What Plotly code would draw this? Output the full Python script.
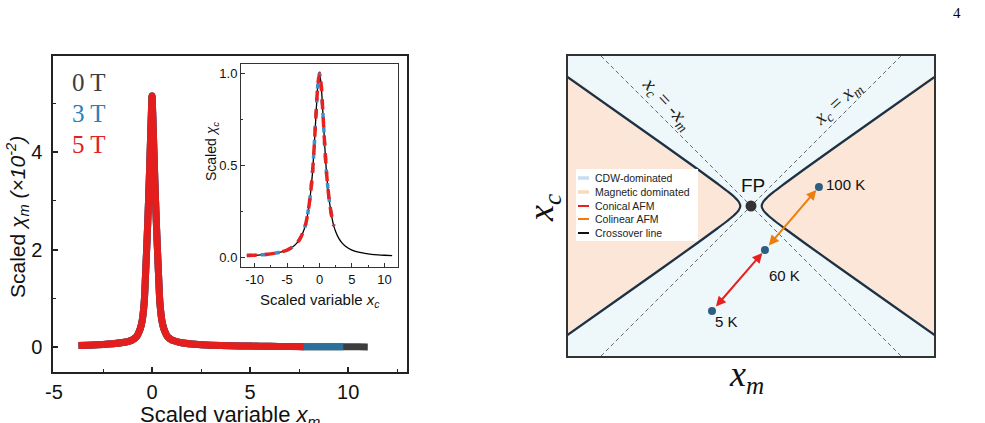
import plotly.graph_objects as go

# ---------------- data: main panel (scaled chi_m vs scaled x_m) ----------------
xm = [-3.75, -3.0, -2.5, -2.0, -1.5, -1.2, -1.0, -0.8, -0.7, -0.6, -0.5, -0.4, -0.33, -0.27,
      -0.22, -0.17, -0.12, -0.07, -0.03, 0.0, 0.03, 0.07, 0.12, 0.17, 0.22, 0.27, 0.33, 0.4,
      0.5, 0.6, 0.7, 0.8, 1.0, 1.2, 1.5, 2.0, 2.5, 3.0, 4.0, 5.0, 6.0, 7.0, 7.75, 8.5, 9.0,
      9.75, 10.5, 11.0]
chi_m = [0.035, 0.045, 0.055, 0.07, 0.095, 0.12, 0.15, 0.21, 0.28, 0.38, 0.55, 0.92, 1.5, 2.05,
         2.55, 3.1, 3.7, 4.35, 4.85, 5.15, 4.85, 4.35, 3.7, 3.1, 2.55, 2.05, 1.5, 0.92,
         0.55, 0.38, 0.28, 0.21, 0.15, 0.12, 0.09, 0.065, 0.05, 0.04, 0.03, 0.022, 0.017, 0.013,
         0.01, 0.009, 0.008, 0.007, 0.006, 0.005]
field_labels = ["0 T", "3 T", "5 T"]
field_xmax = [11.0, 9.75, 7.75]
field_colors = ["#3d3d3d", "#2b6f9b", "#e41d1d"]
label_colors = ["#3d3d3d", "#2b80bb", "#e4211c"]

# ---------------- data: inset (scaled chi_c vs scaled x_c) ----------------
xc = [-11.2, -10, -9, -8, -7, -6, -5, -4, -3.4, -3, -2.5, -2.2, -2, -1.7, -1.4, -1.1, -0.8,
      -0.5, -0.25, 0, 0.25, 0.5, 0.8, 1.1, 1.4, 1.7, 2, 2.2, 2.5, 3, 3.4, 4, 5, 6, 7, 8, 9,
      10, 11.2]
chi_c = [0.008, 0.01, 0.012, 0.015, 0.02, 0.027, 0.038, 0.059, 0.08, 0.10, 0.138, 0.17,
         0.2, 0.26, 0.34, 0.45, 0.61, 0.8, 0.94, 1.0, 0.94, 0.8, 0.61, 0.45, 0.34, 0.26,
         0.2, 0.17, 0.138, 0.10, 0.08, 0.059, 0.038, 0.027, 0.02, 0.015, 0.012, 0.01, 0.008]
inset_xmax = 2.2

# ---------------- data: schematic phase diagram ----------------
hyp_y = [-0.88, -0.6, -0.4, -0.25, -0.15, -0.1, -0.06, -0.03, 0.0, 0.03, 0.06, 0.1, 0.15,
         0.25, 0.4, 0.6, 0.88]
hyp_x_right = [1.252, 0.855, 0.572, 0.362, 0.225, 0.159, 0.111, 0.083, 0.071, 0.083, 0.111,
               0.159, 0.225, 0.362, 0.572, 0.855, 1.252]
hyp_x_left = [-1.252, -0.855, -0.572, -0.362, -0.225, -0.159, -0.111, -0.083, -0.071,
              -0.083, -0.111, -0.159, -0.225, -0.362, -0.572, -0.855, -1.252]
temp_labels = ["5 K", "60 K", "100 K"]
temp_xm = [-0.26, 0.093, 0.453]
temp_xc = [-0.70, -0.293, 0.127]
diag_x = [-1.0, 1.0]
diag_y_pos = [-1.0, 1.0]
diag_y_neg = [1.0, -1.0]

W, H = 985, 423
def px(x):
    return x / W
def py(y):
    return 1 - y / H

fig = go.Figure()

# main panel curves
for lab, xmax, col in zip(field_labels, field_xmax, field_colors):
    xs = [x for x in xm if x <= xmax]
    ys = chi_m[:len(xs)]
    fig.add_trace(go.Scatter(x=xs, y=ys, mode="lines",
                             line=dict(color=col, width=7, shape="spline", smoothing=0.8),
                             xaxis="x", yaxis="y", showlegend=False, name=lab))

# inset curves
fig.add_trace(go.Scatter(x=xc, y=chi_c, mode="lines",
                         line=dict(color="black", width=1.3, shape="spline", smoothing=0.8),
                         xaxis="x2", yaxis="y2", showlegend=False))
xi = [x for x in xc if x <= inset_xmax]
yi = chi_c[:len(xi)]
fig.add_trace(go.Scatter(x=xi, y=yi, mode="lines",
                         line=dict(color="#3a90cf", width=3.5, dash="5px,9px", shape="spline", smoothing=0.8),
                         xaxis="x2", yaxis="y2", showlegend=False))
fig.add_trace(go.Scatter(x=xi, y=yi, mode="lines",
                         line=dict(color="#e8231f", width=3.5, dash="10px,8px", shape="spline", smoothing=0.8),
                         xaxis="x2", yaxis="y2", showlegend=False))

# phase diagram fills
orange_fill = "#fbe6d8"
fig.add_trace(go.Scatter(x=hyp_x_right + [1.4, 1.4], y=hyp_y + [0.88, -0.88], mode="lines",
                         fill="toself", fillcolor=orange_fill, line=dict(width=0, shape="spline"),
                         xaxis="x3", yaxis="y3", showlegend=False))
fig.add_trace(go.Scatter(x=hyp_x_left + [-1.4, -1.4], y=hyp_y + [0.88, -0.88], mode="lines",
                         fill="toself", fillcolor=orange_fill, line=dict(width=0, shape="spline"),
                         xaxis="x3", yaxis="y3", showlegend=False))
# dashed diagonals
for dy in (diag_y_pos, diag_y_neg):
    fig.add_trace(go.Scatter(x=diag_x, y=dy, mode="lines",
                             line=dict(color="#666666", width=1, dash="4px,3px"),
                             xaxis="x3", yaxis="y3", showlegend=False))
# crossover lines
for hx in (hyp_x_right, hyp_x_left):
    fig.add_trace(go.Scatter(x=hx, y=hyp_y, mode="lines", line=dict(color="#1c3244", width=2.2, shape="spline"),
                             xaxis="x3", yaxis="y3", showlegend=False))
# FP
fig.add_trace(go.Scatter(x=[0], y=[0], mode="markers", marker=dict(color="#333333", size=11),
                         xaxis="x3", yaxis="y3", showlegend=False))

annotations = []
# arrows
arrow_cols = ["#e8201f", "#f07d0a"]
for i, col in enumerate(arrow_cols):
    annotations.append(dict(x=temp_xm[i + 1], y=temp_xc[i + 1], ax=temp_xm[i], ay=temp_xc[i],
                            xref="x3", yref="y3", axref="x3", ayref="y3", text="",
                            showarrow=True, arrowhead=2, startarrowhead=2, arrowside="end+start",
                            arrowsize=1, startarrowsize=1, arrowwidth=2, arrowcolor=col,
                            standoff=4, startstandoff=4))
fig.add_trace(go.Scatter(x=temp_xm, y=temp_xc, mode="markers", marker=dict(color="#2f5f80", size=8),
                         xaxis="x3", yaxis="y3", showlegend=False))

# temperature labels
temp_shift = [(14, -10, "center"), (20, -26, "center"), (5, 2, "left")]
for lab, x, y, (dx, dy, xa) in zip(temp_labels, temp_xm, temp_xc, temp_shift):
    annotations.append(dict(x=x, y=y, xref="x3", yref="y3", text=lab, showarrow=False,
                            xshift=dx, yshift=dy, xanchor=xa, yanchor="middle",
                            font=dict(family="Arial", size=15, color="#111111")))
annotations.append(dict(x=0, y=0, xref="x3", yref="y3", text="FP", showarrow=False, yshift=21,
                        xshift=2, xanchor="center", yanchor="middle",
                        font=dict(family="Arial", size=19, color="#111111")))

def paper_text(x, y, text, size, family="Arial", color="#111111", angle=0, xanchor="center"):
    annotations.append(dict(x=px(x), y=py(y), xref="paper", yref="paper", showarrow=False,
                            text=text, textangle=angle, xanchor=xanchor, yanchor="middle",
                            font=dict(family=family, size=size, color=color)))

# diagonal labels
paper_text(667, 103, "<i>x<sub>c</sub></i> = -<i>x<sub>m</sub></i>", 20, "Liberation Serif", "#222222", 47)
paper_text(837, 103, "<i>x<sub>c</sub></i> = <i>x<sub>m</sub></i>", 20, "Liberation Serif", "#222222", -42)

# right panel axis titles
paper_text(543, 208, "<i>x<sub>c</sub></i>", 36, "Liberation Serif", angle=-90)
paper_text(746, 376, "<i>x<sub>m</sub></i>", 36, "Liberation Serif")

# manual legend in right panel
leg_labels = ["CDW-dominated", "Magnetic dominated", "Conical AFM", "Colinear AFM", "Crossover line"]
leg_colors = ["#c6def0", "#f7dbbb", "#e8201f", "#f07d0a", "#111111"]
leg_widths = [3.5, 3.5, 2, 2, 2]
leg_rows = [178, 192, 206, 219, 233]
shapes = []
shapes.append(dict(type="rect", xref="x3 domain", yref="y3 domain", x0=0, x1=1, y0=0, y1=1,
                   fillcolor="#eef7f9", line=dict(width=0), layer="below"))
shapes.append(dict(type="rect", xref="paper", yref="paper", x0=px(576), x1=px(698),
                   y0=py(241), y1=py(169), fillcolor="white", line=dict(width=0)))
for lab, col, w, r in zip(leg_labels, leg_colors, leg_widths, leg_rows):
    shapes.append(dict(type="line", xref="paper", yref="paper", x0=px(578), x1=px(589),
                       y0=py(r), y1=py(r), line=dict(color=col, width=w)))
    paper_text(593, r, lab, 10.5, "Arial", "#222222", xanchor="left")

# left panel field labels
for lab, col, r in zip(field_labels, label_colors, [82, 113, 144]):
    paper_text(70, r, lab, 25, "Liberation Serif", col, xanchor="left")

# left panel titles
paper_text(18, 217, "Scaled <i>χ<sub>m</sub> (×10<sup>-2</sup>)</i>", 21, angle=-90)
paper_text(230, 416, "Scaled variable <i>x<sub>m</sub></i>", 22)
# inset titles
paper_text(212, 152, "Scaled <i>χ<sub>c</sub></i>", 14, angle=-90)
paper_text(320, 300, "Scaled variable <i>x<sub>c</sub></i>", 15)
# page number
paper_text(957, 13, "4", 15, "Liberation Serif", "#000000")

axis_common = dict(showgrid=False, zeroline=False, showline=True, mirror=True, ticks="inside",
                   automargin=False)

fig.update_layout(
    width=W, height=H, margin=dict(l=0, r=0, t=0, b=0),
    paper_bgcolor="white", plot_bgcolor="white", showlegend=False,
    xaxis=dict(domain=[px(53), px(407)], anchor="y", range=[-5.05, 13.0],
               tickvals=[-5, 0, 5, 10], ticktext=["-5", "0", "5", "10"],
               linecolor="#222222", linewidth=1.5, ticklen=5, tickwidth=1.5, tickcolor="#222222",
               minor=dict(tickvals=[-2.5, 2.5, 7.5, 12.5], ticks="inside", ticklen=3,
                          tickcolor="#222222", tickwidth=1.2),
               tickfont=dict(family="Arial", size=20, color="#111111"), ticklabelstandoff=1,
               **axis_common),
    yaxis=dict(domain=[py(372), py(56)], anchor="x", range=[-0.51, 5.97],
               tickvals=[0, 2, 4], linecolor="#222222", linewidth=1.5, ticklen=5, tickwidth=1.5,
               tickcolor="#222222",
               minor=dict(tickvals=[1, 3, 5], ticks="inside", ticklen=3, tickcolor="#222222",
                          tickwidth=1.2),
               tickfont=dict(family="Arial", size=20, color="#111111"), ticklabelstandoff=5,
               **axis_common),
    xaxis2=dict(domain=[px(241), px(398)], anchor="y2", range=[-12.1, 12.1],
                tickvals=[-10, -5, 0, 5, 10], ticktext=["-10", "-5", "0", "5", "10"],
                linecolor="#333333", linewidth=1, ticklen=4, tickcolor="#333333",
                minor=dict(tickvals=[-7.5, -2.5, 2.5, 7.5], ticks="inside", ticklen=2,
                           tickcolor="#333333"),
                tickfont=dict(family="Arial", size=13, color="#111111"), **axis_common),
    yaxis2=dict(domain=[py(267), py(64)], anchor="x2", range=[-0.054, 1.05],
                tickvals=[0, 0.5, 1.0], ticktext=["0.0", "0.5", "1.0"],
                linecolor="#333333", linewidth=1, ticklen=4, tickcolor="#333333",
                minor=dict(tickvals=[0.25, 0.75], ticks="inside", ticklen=2, tickcolor="#333333"),
                tickfont=dict(family="Arial", size=13, color="#111111"), **axis_common),
    xaxis3=dict(domain=[px(568), px(934)], anchor="y3", range=[-1.22, 1.22], automargin=False,
                showgrid=False, zeroline=False, showline=True, mirror=True, linecolor="#333333",
                linewidth=1.5, showticklabels=False, ticks=""),
    yaxis3=dict(domain=[py(356), py(56)], anchor="x3", range=[-1, 1], automargin=False,
                showgrid=False, zeroline=False, showline=True, mirror=True, linecolor="#333333",
                linewidth=1.5, showticklabels=False, ticks=""),
    annotations=annotations, shapes=shapes,
)

fig.write_html("out.html")
